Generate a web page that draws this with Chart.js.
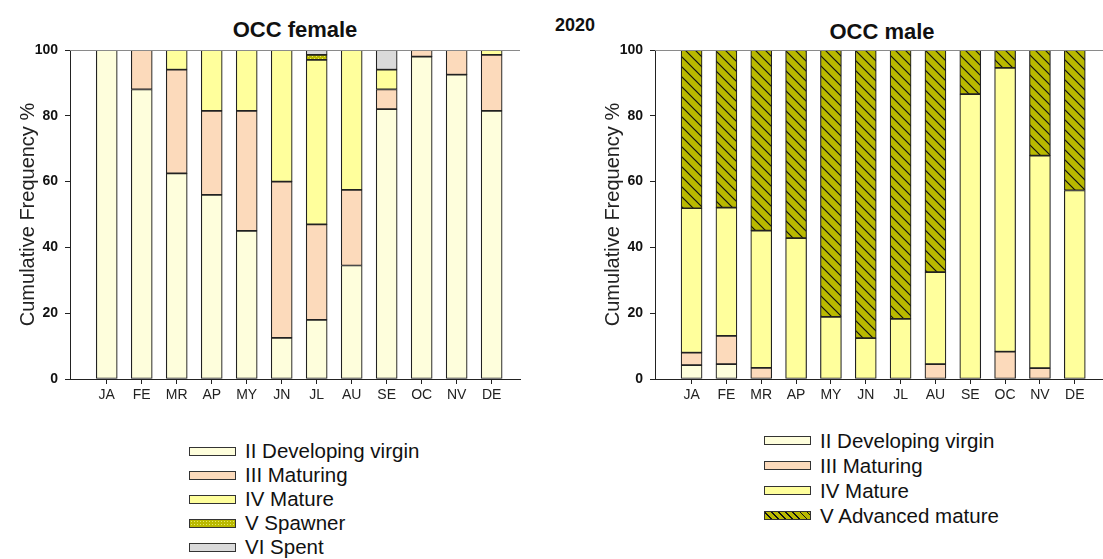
<!DOCTYPE html>
<html lang="en">
<head>
<meta charset="UTF-8">
<title>OCC 2020</title>
<script src="https://cdn.jsdelivr.net/npm/chart.js"></script>
<style>
    body { margin: 0; background: #fff; font-family: "Liberation Sans", Arial, sans-serif; }
    #wrap { position: relative; width: 1103px; height: 559px; overflow: hidden; }
    canvas { position: absolute; top: 0; }
    .ttl { position: absolute; font-weight: bold; color: #111; white-space: nowrap; transform: translateX(-50%); line-height: 1; }
    .legend { position: absolute; font-size: 20.5px; color: #111; }
    .legend div { display: flex; align-items: center; white-space: nowrap; }
    .sw { width: 45px; height: 7px; border: 1px solid #333; margin-right: 9px; }
</style>
</head>
<body>
<div id="wrap">
    <div class="ttl" style="left:295px; top:19px; font-size:22px;">OCC female</div>
    <div class="ttl" style="left:575px; top:16px; font-size:18px;">2020</div>
    <div class="ttl" style="left:882px; top:21px; font-size:22px;">OCC male</div>

    <canvas id="female" width="530" height="420" style="left:0;"></canvas>
    <canvas id="male" width="518" height="420" style="left:585px;"></canvas>

    <div class="legend" id="legF" style="left:189px; top:439px;"></div>
    <div class="legend" id="legM" style="left:764px; top:428px;"></div>
</div>

<script>
    const months = ['JA', 'FE', 'MR', 'AP', 'MY', 'JN', 'JL', 'AU', 'SE', 'OC', 'NV', 'DE'];
    const yTicks = [0, 20, 40, 60, 80, 100];

    // female, percent per stage (stacked to 100)
    const femaleLabels = ['II Developing virgin', 'III Maturing', 'IV Mature', 'V Spawner', 'VI Spent'];
    const fDeveloping = [100, 88, 62.5, 56, 45, 12.5, 18, 34.5, 82, 98, 92.5, 81.5];
    const fMaturing   = [0, 12, 31.5, 25.5, 36.5, 47.5, 29, 23, 6, 2, 7.5, 17];
    const fMature     = [0, 0, 6, 18.5, 18.5, 40, 50, 42.5, 6, 0, 0, 1.5];
    const fSpawner    = [0, 0, 0, 0, 0, 0, 1.5, 0, 0, 0, 0, 0];
    const fSpent      = [0, 0, 0, 0, 0, 0, 1.5, 0, 6, 0, 0, 0];

    // male
    const maleLabels = ['II Developing virgin', 'III Maturing', 'IV Mature', 'V Advanced mature'];
    const mDeveloping = [4.2, 4.5, 0, 0, 0, 0, 0, 0, 0, 0, 0, 0];
    const mMaturing   = [3.8, 8.6, 3.4, 0, 0, 0, 0, 4.5, 0, 8.3, 3.3, 0];
    const mMature     = [43.9, 39, 41.7, 42.8, 18.9, 12.4, 18.3, 28, 86.6, 86.3, 64.6, 57.3];
    const mAdvanced   = [48.1, 47.9, 54.9, 57.2, 81.1, 87.6, 81.7, 67.5, 13.4, 5.4, 32.1, 42.7];

    const cVirgin = '#fefedc';
    const cMaturing = '#fcdabb';
    const cMature = '#ffff9c';
    const cSpent = '#dadada';
    const cOlive = '#b9b900';

    function hatch() {
        const c = document.createElement('canvas');
        c.width = 10; c.height = 10;
        const g = c.getContext('2d');
        g.fillStyle = cOlive;
        g.fillRect(0, 0, 10, 10);
        g.strokeStyle = '#111';
        g.lineWidth = 1.2;
        g.beginPath();
        g.moveTo(-1, -1); g.lineTo(11, 11);
        g.moveTo(-1, 9); g.lineTo(1, 11);
        g.moveTo(9, -1); g.lineTo(11, 1);
        g.stroke();
        return g.createPattern(c, 'repeat');
    }

    function dots() {
        const c = document.createElement('canvas');
        c.width = 4; c.height = 4;
        const g = c.getContext('2d');
        g.fillStyle = cOlive;
        g.fillRect(0, 0, 4, 4);
        g.fillStyle = '#e6e66a';
        g.fillRect(0, 0, 1, 1);
        g.fillRect(2, 2, 1, 1);
        return g.createPattern(c, 'repeat');
    }

    function series(label, vals, fill) {
        return {
            label: label,
            data: vals.map((v, i) => ({ x: i + 1, y: v === 0 ? null : v })),
            backgroundColor: fill,
            borderColor: '#222',
            borderWidth: 1.2,
            borderSkipped: false,
            barThickness: 21
        };
    }

    const topLine = {
        id: 'topLine',
        afterDraw(chart) {
            const a = chart.chartArea, ctx = chart.ctx;
            ctx.save();
            ctx.strokeStyle = '#8a8a8a';
            ctx.lineWidth = 1;
            ctx.beginPath();
            ctx.moveTo(a.left, a.top + 0.5);
            ctx.lineTo(a.right, a.top + 0.5);
            ctx.stroke();
            ctx.restore();
        }
    };

    function options(padRight) {
        return {
            responsive: false,
            animation: false,
            layout: { padding: { top: 50, right: padRight, left: 0, bottom: 0 } },
            plugins: { legend: { display: false }, tooltip: { enabled: false } },
            scales: {
                x: {
                    type: 'linear',
                    stacked: true,
                    offset: false,
                    min: -0.05,
                    max: 12.81,
                    afterBuildTicks: s => { s.ticks = months.map((m, i) => ({ value: i + 1 })); },
                    afterFit: s => { s.height = 41; },
                    ticks: {
                        autoSkip: false,
                        maxRotation: 0,
                        callback: v => months[v - 1] || '',
                        color: '#222',
                        font: { family: 'Liberation Sans', size: 14 },
                        padding: 3
                    },
                    grid: { display: true, offset: false, drawOnChartArea: false, tickLength: 5, color: '#222' },
                    border: { color: '#222', width: 1 }
                },
                y: {
                    stacked: true,
                    min: 0,
                    max: 100,
                    afterBuildTicks: s => { s.ticks = yTicks.map(v => ({ value: v })); },
                    afterFit: s => { s.width = 70; },
                    ticks: {
                        color: '#111',
                        font: { family: 'Liberation Sans', size: 14, weight: 'bold' },
                        padding: 7
                    },
                    grid: { display: true, drawOnChartArea: false, tickLength: 5, color: '#222' },
                    border: { color: '#222', width: 1 },
                    title: {
                        display: true,
                        text: 'Cumulative Frequency %',
                        color: '#222',
                        font: { family: 'Liberation Sans', size: 20 },
                        padding: { top: 16, bottom: 0 }
                    }
                }
            }
        };
    }

    const spawnFill = dots();
    const advFill = hatch();

    new Chart(document.getElementById('female'), {
        type: 'bar',
        data: {
            datasets: [
                series(femaleLabels[0], fDeveloping, cVirgin),
                series(femaleLabels[1], fMaturing, cMaturing),
                series(femaleLabels[2], fMature, cMature),
                series(femaleLabels[3], fSpawner, spawnFill),
                series(femaleLabels[4], fSpent, cSpent)
            ]
        },
        options: options(10),
        plugins: [topLine]
    });

    new Chart(document.getElementById('male'), {
        type: 'bar',
        data: {
            datasets: [
                series(maleLabels[0], mDeveloping, cVirgin),
                series(maleLabels[1], mMaturing, cMaturing),
                series(maleLabels[2], mMature, cMature),
                series(maleLabels[3], mAdvanced, advFill)
            ]
        },
        options: options(0),
        plugins: [topLine]
    });

    // html legends
    const hatchCss = 'repeating-linear-gradient(45deg, ' + cOlive + ' 0 4px, #111 4px 5px)';
    const dotCss = 'radial-gradient(#e6e66a 0.8px, ' + cOlive + ' 0.9px) 0 0 / 3px 3px';
    function fillLegend(id, labels, fills, rowH) {
        const el = document.getElementById(id);
        labels.forEach((t, i) => {
            const row = document.createElement('div');
            row.style.height = rowH + 'px';
            const sw = document.createElement('span');
            sw.className = 'sw';
            sw.style.background = fills[i];
            row.appendChild(sw);
            row.appendChild(document.createTextNode(t));
            el.appendChild(row);
        });
    }
    fillLegend('legF', femaleLabels, [cVirgin, cMaturing, cMature, dotCss, cSpent], 24);
    fillLegend('legM', maleLabels, [cVirgin, cMaturing, cMature, hatchCss], 25);
</script>
</body>
</html>
